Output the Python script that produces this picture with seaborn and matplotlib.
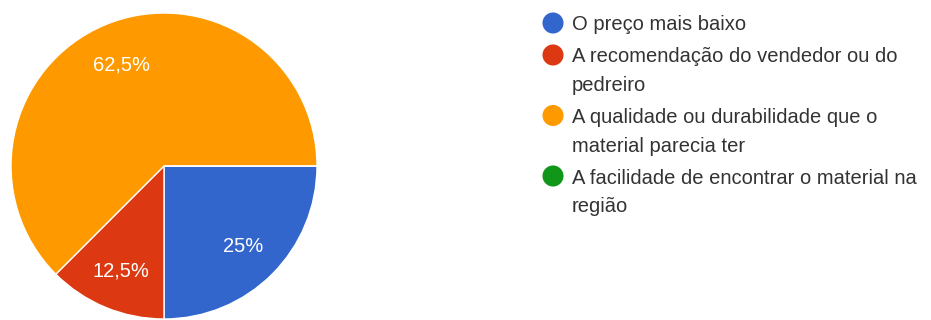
import matplotlib
matplotlib.use("Agg")
import matplotlib.pyplot as plt
import seaborn as sns

categories = [
    "O preço mais baixo",
    "A recomendação do vendedor ou do\npedreiro",
    "A qualidade ou durabilidade que o\nmaterial parecia ter",
    "A facilidade de encontrar o material na\nregião",
]
values = [25.0, 12.5, 62.5, 0.0]
colors = ["#3366cc", "#dc3912", "#ff9900", "#109618"]

sns.set_theme(style="white")
plt.rcParams["font.family"] = ["Liberation Sans", "DejaVu Sans"]

W, H = 931, 320
fig = plt.figure(figsize=(W / 100, H / 100), dpi=100)

cx, cy, r = 164, 166, 153
ax = fig.add_axes([(cx - r) / W, (H - cy - r) / H, 2 * r / W, 2 * r / H])


def fmt(p):
    if p < 0.05:
        return ""
    s = f"{p:.1f}".rstrip("0").rstrip(".")
    return s.replace(".", ",") + "%"


wedges, texts, autotexts = ax.pie(
    values, colors=colors, startangle=0, counterclock=False,
    autopct=fmt, pctdistance=0.73,
    wedgeprops=dict(edgecolor="white", linewidth=1.0),
    textprops=dict(color="white", fontsize=14.5),
)
for t in autotexts:
    t.set_va("center_baseline")
ax.set_xlim(-1, 1)
ax.set_ylim(-1, 1)
ax.set_aspect("equal")
ax.axis("off")

# legend
lax = fig.add_axes([0, 0, 1, 1])
lax.set_xlim(0, W)
lax.set_ylim(H, 0)
lax.axis("off")
y = 23
line_h = 28.5
gap = 3.5
for cat, col in zip(categories, colors):
    lax.scatter([553], [y], s=230, color=col, edgecolors="none")
    for i, line in enumerate(cat.split("\n")):
        lax.text(572, y + i * line_h, line, va="center_baseline", ha="left",
                 fontsize=14.5, color="#333333")
    n = cat.count("\n") + 1
    y += n * line_h + gap

fig.savefig("out.png", dpi=100)
